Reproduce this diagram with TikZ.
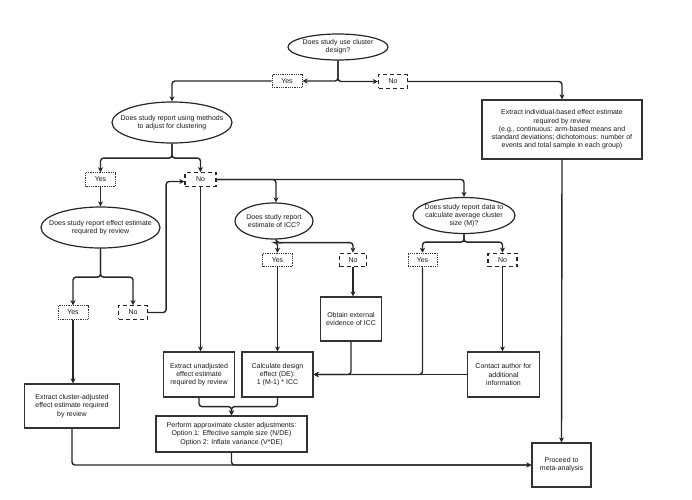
\documentclass[tikz,border=0pt]{standalone}
\usepackage{fontspec}
\setmainfont{Liberation Sans}
\usetikzlibrary{shapes.geometric,arrows.meta}
\begin{document}
\begin{tikzpicture}[x=1pt,y=-1pt,
 every node/.style={font=\fontsize{7}{8.3}\selectfont, text=black!90},
 box/.style={draw=black!80, line width=1.2pt, rectangle, align=center, inner sep=1pt},
 oval/.style={draw=black!85, line width=1.2pt, ellipse, inner sep=0pt},
 yesbox/.style={draw=black!80, line width=1pt, dash pattern=on 1pt off 0.8pt, minimum width=30pt, minimum height=13.5pt, inner sep=0pt},
 nobox/.style={draw=black!85, line width=1.3pt, dash pattern=on 4pt off 3pt, minimum width=29pt, minimum height=13.5pt, inner sep=0pt},
 arr/.style={draw=black!85, line width=1.4pt, rounded corners=3pt, -{Stealth[length=5pt,width=5pt,inset=1.5pt]}},
 ln/.style={draw=black!85, line width=1.4pt, rounded corners=3pt}
]
\useasboundingbox (0,0) rectangle (692,499);

% ellipses
\node[oval, minimum width=100pt, minimum height=26pt, label={[align=center]center:Does study use cluster\\design?}] (e1) at (338,47) {};
\node[oval, minimum width=120pt, minimum height=41pt, label={[align=center]center:Does study report using methods\\to adjust for clustering}] (e2) at (172,122.5) {};
\node[oval, minimum width=119pt, minimum height=41pt, label={[align=center]center:Does study report effect estimate\\required by review}] (e3) at (100.5,227.5) {};
\node[oval, minimum width=78pt, minimum height=36pt, label={[align=center]center:Does study report\\estimate of ICC?}] (e4) at (274,221) {};
\node[oval, minimum width=102pt, minimum height=36pt, label={[align=center]center:Does study report data to\\calculate average cluster\\size (M)?}] (e5) at (464,215.5) {};

% yes / no
\node[yesbox] (y1) at (287,81) {Yes};
\node[nobox] (n1) at (393,81.5) {No};
\node[yesbox] (y2) at (100.5,179.5) {Yes};
\node[nobox, minimum width=31pt] (n2) at (200.5,179.5) {No};
\node[yesbox] (y3) at (73,312.5) {Yes};
\node[nobox] (n3) at (133,312.5) {No};
\node[yesbox] (y4) at (277.5,260) {Yes};
\node[nobox, minimum width=27pt] (n4) at (353,260) {No};
\node[yesbox, minimum width=29pt] (y5) at (422.5,260) {Yes};
\node[nobox] (n5) at (502.5,260) {No};

% boxes
\node[box, minimum width=160pt, minimum height=59pt] (b1) at (562,129.5) {Extract individual-based effect estimate\\required by review\\(e.g., continuous: arm-based means and\\standard deviations; dichotomous: number of\\events and total sample in each group)};
\node[box, minimum width=95pt, minimum height=44pt] (b2) at (72,406) {Extract cluster-adjusted\\effect estimate required\\by review};
\node[box, minimum width=71pt, minimum height=45pt] (b3) at (199,374.5) {Extract unadjusted\\effect estimate\\required by review};
\node[box, minimum width=71pt, minimum height=45pt] (b4) at (277.5,374.5) {Calculate design\\effect (DE):\\1 (M-1) * ICC};
\node[box, minimum width=61pt, minimum height=44pt] (b5) at (351,319) {Obtain external\\evidence of ICC};
\node[box, minimum width=72pt, minimum height=45pt] (b6) at (503.5,374.5) {Contact author for\\additional\\information};
\node[box, minimum width=151pt, minimum height=36pt] (b7) at (231.5,434) {Perform approximate cluster adjustments:\\Option 1: Effective sample size (N/DE)\\Option 2: Inflate variance (V*DE)};
\node[box, minimum width=59pt, minimum height=44pt] (b8) at (561.5,465) {Proceed to\\meta-analysis};

% connectors
\draw[arr] (e1.south) |- (y1.east);
\draw[arr] (e1.south) |- (n1.west);
\draw[arr] (y1.west) -| (e2.north);
\draw[arr] (n1.east) -| (b1.north);
\draw[arr] (b1.south) -- (b8.north);

\draw[arr] (e2.south) -- ++(0,14.5) -| (y2.north);
\draw[arr] (e2.south) -- ++(0,14.5) -| (n2.north);
\draw[arr] (y2.south) -- (e3.north);
\draw[arr] (e3.south) -- ++(0,28.5) -| (y3.north);
\draw[arr] (e3.south) -- ++(0,28.5) -| (n3.north);
\draw[arr] (n3.east) -- ++(18,0) |- ([yshift=-2pt]n2.west);

\draw[arr] (n2.south) -- (n2.south |- b3.north);
\draw[arr] (n2.east) -| (e5.north);
\draw[arr] (n2.east) -| ([xshift=2pt]e4.north);

\draw[arr] ([xshift=2pt]e4.south) -- ++(0,3) -| (y4.north);
\draw[arr] ([xshift=2pt]e4.south) -- ++(0,3) -| (n4.north);
\draw[arr] (e5.south) -- ++(0,8) -| (y5.north);
\draw[arr] (e5.south) -- ++(0,8) -| (n5.north);

\draw[arr] (y4.south) -- (b4.north);
\draw[arr] (n4.south) -- (n4.south |- b5.north);
\draw[arr] (b5.south) |- (b4.east);
\draw[arr] (y5.south) |- (b4.east);
\draw[arr] (b6.west) -- (b4.east);
\draw[arr] (n5.south) -- (n5.south |- b6.north);

\draw[arr] (y3.south) -- (y3.south |- b2.north);
\draw[arr] (b3.south) -- ++(0,9) -| (b7.north);
\draw[arr] (b4.south) -- ++(0,9) -| (b7.north);
\draw[arr] (b2.south) |- (b8.west);
\draw[arr] (b7.south) |- (b8.west);
\end{tikzpicture}
\end{document}
